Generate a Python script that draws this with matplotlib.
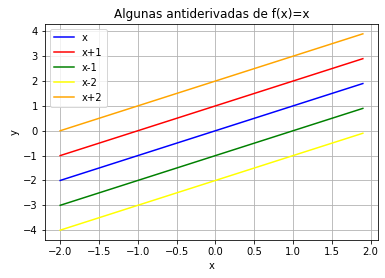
import matplotlib
matplotlib.use("Agg")
import matplotlib.pyplot as plt

x_ends = [-2.0, 1.9]
labels = ["x", "x+1", "x-1", "x-2", "x+2"]
y_ends = [[-2.0, 1.9], [-1.0, 2.9], [-3.0, 0.9], [-4.0, -0.1], [0.0, 3.9]]
colors = ["blue", "red", "green", "yellow", "orange"]

fig = plt.figure(figsize=(385/72, 278/72), dpi=72)
ax = fig.add_axes([45/385, 38/278, (378-45)/385, (240-24)/278])
for lab, ys, c in zip(labels, y_ends, colors):
    ax.plot(x_ends, ys, color=c, label=lab)
ax.set_title("Algunas antiderivadas de f(x)=x")
ax.set_xlabel("x")
ax.set_ylabel("y")
ax.set_xticks([-2.0, -1.5, -1.0, -0.5, 0.0, 0.5, 1.0, 1.5, 2.0])
ax.grid(True)
ax.legend(loc="upper left")
fig.savefig("out.png", dpi=72)
